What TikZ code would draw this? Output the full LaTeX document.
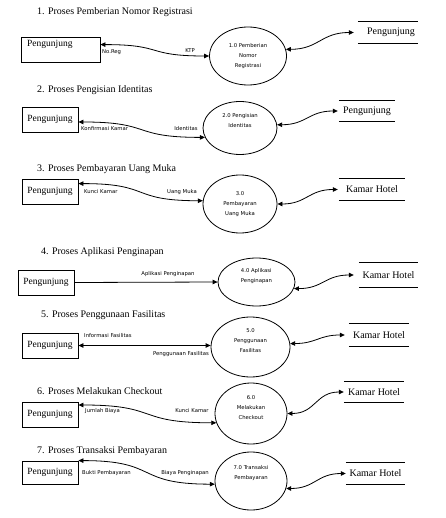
\documentclass[tikz,border=0pt]{standalone}
\usepackage{fontspec}
\setmainfont{Liberation Serif}
\newfontfamily\labfont{DejaVu Sans}
\usetikzlibrary{arrows.meta,calc,shapes.geometric}
\begin{document}
\begin{tikzpicture}[x=1pt,y=-1pt,
  box/.style={draw,line width=0.8pt,minimum height=25pt,minimum width=56pt,inner sep=0pt,font=\fontsize{9.5}{11}\selectfont},
  boxtext/.style={anchor=west,inner sep=0pt,font=\fontsize{9.5}{11}\selectfont},
  proc/.style={draw,ellipse,line width=0.8pt,inner sep=0pt,align=center,font=\labfont\fontsize{5.3}{10}\selectfont},
  ent/.style={inner sep=0pt,font=\fontsize{10}{12}\selectfont},
  title/.style={anchor=west,inner sep=0pt,font=\fontsize{10}{12}\selectfont},
  lab/.style={inner sep=0pt,font=\labfont\fontsize{5.3}{7}\selectfont},
  tip/.tip={Triangle[length=5pt,width=4.5pt]},
  flow/.style={line width=0.8pt,tip-tip},
  flowin/.style={line width=0.8pt,-tip},
  entline/.style={line width=0.8pt}
]
\useasboundingbox (0,0) rectangle (445,518);

% ---------- 1 ----------
\node[title] (t1) at (37,12) {1. Proses Pemberian Nomor Registrasi};
\node[box,minimum width=79pt] (b1) at (60.5,49.5) {};
\node[boxtext] (b1t) at (27,44) {Pengunjung};
\node[proc,minimum width=77pt,minimum height=58pt] (e1) at (248,56) {1.0 Pemberian\\Nomor\\Registrasi};
\node[ent,minimum width=60pt,minimum height=21pt] (n1) at (388,32.5) {\hspace*{6pt}Pengunjung};
\draw[entline] (n1.north west) -- (n1.north east) (n1.south west) -- (n1.south east);
\draw[flow] ($(b1.north east)+(0,8)$) to[out=0,in=180,looseness=1.5] (e1.west);
\draw[flow] (e1.10) to[out=0,in=180,looseness=1.2] ($(n1.west)+(-4,0)$);
\node[lab,anchor=west] (l1a) at (102,52) {No.Reg};
\node[lab] (l1b) at (190,51) {KTP};

% ---------- 2 ----------
\node[title] (t2) at (37,90) {2. Proses Pengisian Identitas};
\node[box] (b2) at (50,120) {\raisebox{3pt}{Pengunjung}};
\node[proc,minimum width=74pt,minimum height=53pt] (e2) at (240,128) {2.0 Pengisian\\Identitas\\[6pt]};
\node[ent,minimum width=56pt,minimum height=20pt] (n2) at (367,111) {Pengunjung};
\draw[entline] (n2.north west) -- (n2.north east) (n2.south west) -- (n2.south east);
\draw[flow] ($(b2.east)+(0,2)$) to[out=0,in=180,looseness=1.5] (e2.195);
\draw[flow] (e2.5) to[out=0,in=180,looseness=1.2] ($(n2.west)+(-1,0)$);
\node[lab,anchor=west] (l2a) at (81,129) {Konfirmasi Kamar};
\node[lab] (l2b) at (186,129) {Identitas};

% ---------- 3 ----------
\node[title] (t3) at (37,169) {3. Proses Pembayaran Uang Muka};
\node[box] (b3) at (50,191.5) {\raisebox{3pt}{Pengunjung}};
\node[proc,minimum width=74pt,minimum height=58pt] (e3) at (240,204) {3.0\\Pembayaran\\Uang Muka};
\node[ent,minimum width=66pt,minimum height=21pt] (n3) at (372,189.5) {Kamar Hotel};
\draw[entline] (n3.north west) -- (n3.north east) (n3.south west) -- (n3.south east);
\draw[flow] ($(b3.north east)+(0,5)$) to[out=0,in=180,looseness=1.5] (e3.175);
\draw[flow] (e3.east) to[out=0,in=180,looseness=1.2] ($(n3.west)+(-1,0)$);
\node[lab,anchor=west] (l3a) at (84,192) {Kunci Kamar};
\node[lab] (l3b) at (182,192) {Uang Muka};

% ---------- 4 ----------
\node[title] (t4) at (41,252) {4. Proses Aplikasi Penginapan};
\node[box] (b4) at (46,282.5) {\raisebox{3pt}{Pengunjung}};
\node[proc,minimum width=77pt,minimum height=48pt,align=left] (e4) at (256.5,282) {4.0 Aplikasi\\Penginapan\\[4pt]};
\node[ent,minimum width=59pt,minimum height=24pt] (n4) at (388.5,275) {Kamar Hotel};
\draw[entline] (n4.north west) -- (n4.north east) (n4.south west) -- (n4.south east);
\draw[flowin] (b4.east) -- (e4.west);
\draw[flow] (e4.-10) to[out=0,in=180,looseness=1.2] ($(n4.west)+(-5,0)$);
\node[lab] (l4a) at (168,274) {Aplikasi Penginapan};

% ---------- 5 ----------
\node[title] (t5) at (41,315) {5. Proses Penggunaan Fasilitas};
\node[box] (b5) at (50,345.5) {Pengunjung};
\node[proc,minimum width=79pt,minimum height=60pt] (e5) at (250.5,347) {5.0\\Penggunaan\\Fasilitas\\[2pt]};
\node[ent,minimum width=60pt,minimum height=22pt] (n5) at (379,335) {Kamar Hotel};
\draw[entline] (n5.north west) -- (n5.north east) (n5.south west) -- (n5.south east);
\draw[flow] (b5.east) -- (b5.east -| e5.west);
\draw[flow] (e5.5) to[out=0,in=180,looseness=1.2] ($(n5.west)+(-4,0)$);
\node[lab,anchor=west] (l5a) at (84,336) {Informasi Fasilitas};
\node[lab,anchor=east] (l5b) at (209,354) {Penggunaan Fasilitas};

% ---------- 6 ----------
\node[title] (t6) at (37,391) {6. Proses Melakukan Checkout};
\node[box] (b6) at (50,415) {\raisebox{3pt}{Pengunjung}};
\node[proc,minimum width=72pt,minimum height=61pt] (e6) at (251,413.5) {6.0\\Melakukan\\Checkout\\[2pt]};
\node[ent,minimum width=60pt,minimum height=20pt] (n6) at (374,392) {Kamar Hotel};
\draw[entline] (n6.north west) -- (n6.north east) (n6.south west) -- (n6.south east);
\draw[flow] ($(b6.east)+(0,-10)$) to[out=0,in=180,looseness=1.5] (e6.195);
\draw[flow] (e6.east) to[out=0,in=180,looseness=1.2] (n6.west);
\node[lab,anchor=west] (l6a) at (85,411) {Jumlah Biaya};
\node[lab] (l6b) at (192,411) {Kunci Kamar};

% ---------- 7 ----------
\node[title] (t7) at (37,451) {7. Proses Transaksi Pembayaran};
\node[box,minimum height=23pt] (b7) at (50,472.5) {\raisebox{3pt}{Pengunjung}};
\node[proc,minimum width=72pt,minimum height=58pt] (e7) at (251,481) {7.0 Transaksi\\Pembayaran\\[8pt]};
\node[ent,minimum width=59pt,minimum height=21pt] (n7) at (375.5,473.5) {Kamar Hotel};
\draw[entline] (n7.north west) -- (n7.north east) (n7.south west) -- (n7.south east);
\draw[flow] (b7.north east) to[out=0,in=180,looseness=1.5] (e7.185);
\draw[flow] (e7.-12) to[out=0,in=180,looseness=1.2] (n7.west);
\node[lab,anchor=west] (l7a) at (82,473) {Bukti Pembayaran};
\node[lab] (l7b) at (185,473) {Biaya Penginapan};
\end{tikzpicture}
\end{document}
